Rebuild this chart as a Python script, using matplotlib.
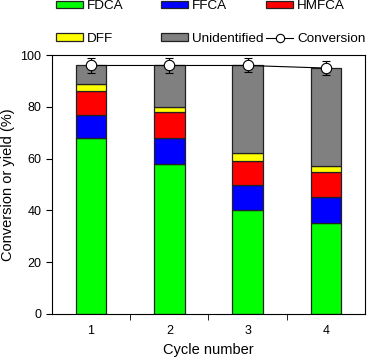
import matplotlib
matplotlib.use('Agg')
import matplotlib.pyplot as plt
from matplotlib.patches import Patch
from matplotlib.lines import Line2D
import numpy as np

plt.rcParams['font.family'] = ['Liberation Sans', 'DejaVu Sans']

cycles = [1, 2, 3, 4]
fdca = [68, 58, 40, 35]
ffca = [9, 10, 10, 10]
hmfca = [9, 10, 9, 10]
dff = [3, 2, 3, 2]
unidentified = [7, 16, 34, 38]
conversion = [96, 96, 96, 95]
conversion_err = [3, 2.8, 2.7, 2.7]

series = [('FDCA', fdca, '#00ff00'),
          ('FFCA', ffca, '#0000ff'),
          ('HMFCA', hmfca, '#ff0000'),
          ('DFF', dff, '#ffff00'),
          ('Unidentified', unidentified, '#808080')]

fig = plt.figure(figsize=(3.68, 3.58), dpi=100)
ax = fig.add_axes([0.141, 0.123, 0.851, 0.723])

bottom = np.zeros(len(cycles))
handles = []
for name, vals, color in series:
    ax.bar(cycles, vals, width=0.39, bottom=bottom, color=color,
           edgecolor='#222222', linewidth=0.9, zorder=2)
    bottom += np.array(vals)
    handles.append(Patch(facecolor=color, edgecolor='#222222', linewidth=0.9, label=name))

ax.errorbar(cycles, conversion, yerr=conversion_err, color='black', lw=0.8,
            capsize=3, capthick=0.8, elinewidth=0.8, zorder=3)
ax.plot(cycles, conversion, 'o', ms=7.5, mfc='white', mec='black', mew=0.8, zorder=4)
handles.append(Line2D([], [], color='black', lw=0.8, marker='o', ms=6,
                      mfc='white', mec='black', mew=0.8, label='Conversion'))

ax.set_xlim(0.5, 4.5)
ax.set_ylim(0, 100)
ax.set_xticks(cycles)
ax.set_xticks([1.5, 2.5, 3.5], minor=True)
ax.tick_params(axis='x', which='major', length=0, labelsize=9, pad=8)
ax.tick_params(axis='x', which='minor', length=4, direction='out')
ax.tick_params(axis='y', length=4, direction='out', labelsize=9)
ax.set_yticks([0, 20, 40, 60, 80, 100])
ax.set_xlabel('Cycle number', fontsize=10.5)
ax.set_ylabel('Conversion or yield (%)', fontsize=10.5)

# legend laid out by rows, three columns placed like the original
cols_x = [0.152, 0.4375, 0.723]
for i, x in enumerate(cols_x):
    leg = fig.legend(handles=[handles[i], handles[i + 3]], loc='upper left',
                     bbox_to_anchor=(x, 1.0), frameon=False, fontsize=9.7,
                     handlelength=2.0, handleheight=0.45, handletextpad=0.3,
                     labelspacing=1.55, borderaxespad=0.0, borderpad=0.0)

fig.savefig('out.png', dpi=100)
